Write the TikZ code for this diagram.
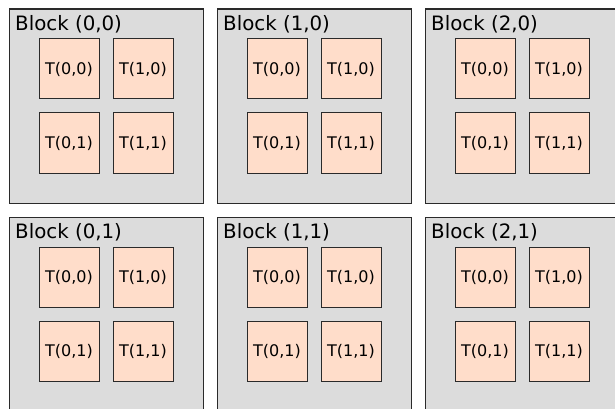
\documentclass[tikz,border=0pt]{standalone}
\usepackage{fontspec}
\setmainfont{DejaVu Sans}
\definecolor{blockgray}{HTML}{DCDCDC}
\definecolor{threadpeach}{HTML}{FFDDCA}
\definecolor{edge}{HTML}{2A2A2A}
\tikzset{
  blockbox/.style={draw=edge, fill=blockgray, line width=1.1pt, minimum width=194pt,
    minimum height=194pt, inner sep=0pt, anchor=north west},
  blocklabel/.style={anchor=base west, inner sep=0pt, font=\fontsize{19.8}{21}\selectfont},
  threadbox/.style={draw=edge, fill=threadpeach, line width=1pt, minimum width=60pt,
    minimum height=60pt, inner sep=0pt, anchor=north west, font=\fontsize{16}{17}\selectfont},
}
\begin{document}
\begin{tikzpicture}[x=1pt, y=-1pt]
  \useasboundingbox (0,0) rectangle (615,409);
  \clip (0,0) rectangle (615,409);
  \foreach \bx in {0,1,2} {
    \foreach \by in {0,1} {
      \pgfmathsetmacro{\ox}{8.5+208*\bx}
      \pgfmathsetmacro{\oy}{8.5+208*\by}
      \node[blockbox] (b-\bx-\by) at (\ox,\oy) {};
      \node[blocklabel] (bl-\bx-\by) at ([xshift=6.5pt, yshift=-22.2pt]b-\bx-\by.north west)
        {Block (\bx,\by)};
      \foreach \tx in {0,1} {
        \foreach \ty in {0,1} {
          \node[threadbox] (t-\bx-\by-\tx-\ty)
            at ([xshift={30pt+74pt*\tx}, yshift={-30pt-74pt*\ty}]b-\bx-\by.north west)
            {T(\tx,\ty)};
        }
      }
    }
  }
\end{tikzpicture}
\end{document}
